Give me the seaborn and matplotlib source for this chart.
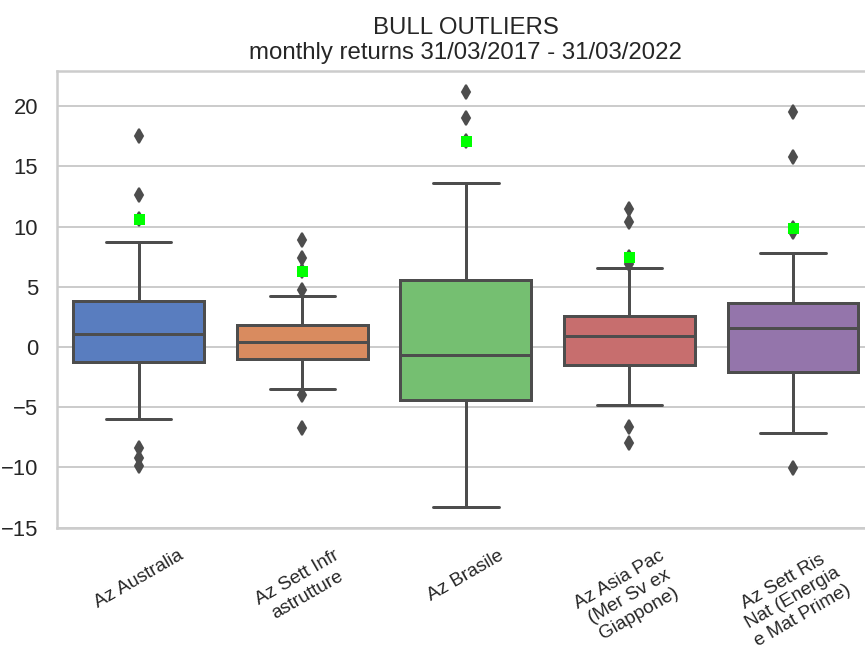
import textwrap

import matplotlib.pyplot as plt
import pandas as pd
import seaborn as sns

sns.set_theme(style="whitegrid", palette="muted")
plt.rcParams["font.family"] = ["Liberation Sans", "DejaVu Sans"]

funds = [
    "Az Australia",
    "Az Sett Infrastrutture",
    "Az Brasile",
    "Az Asia Pac (Mer Sv ex Giappone)",
    "Az Sett Ris Nat (Energia e Mat Prime)",
]

# monthly returns (%)
az_australia = [-9.9, -9.2, -8.4, -6.0, -1.2, -0.6, 0.0, 0.6, 1.1, 1.8, 2.5,
                3.2, 3.8, 8.7, 10.6, 12.6, 17.5]
az_infrastrutture = [-6.7, -4.0, -3.45, -2.6, -1.8, -1.0, -0.7, -0.3, 0.0, 0.2,
                     0.45, 0.8, 1.1, 1.4, 1.6, 1.85, 4.2, 4.75, 6.35, 7.4, 8.9]
az_brasile = [-13.3, -10.5, -8.0, -6.0, -4.4, -3.5, -2.5, -1.5, -0.7, 1.0, 2.5,
              4.0, 5.6, 13.6, 17.1, 19.0, 21.2]
az_asia_pac = [-7.95, -6.65, -4.85, -3.5, -2.4, -1.45, -0.9, -0.4, 0.1, 0.5,
               0.9, 1.3, 1.7, 2.0, 2.3, 2.6, 6.6, 6.9, 7.5, 10.35, 11.45]
az_ris_nat = [-10.05, -7.15, -5.5, -4.0, -3.0, -2.05, -1.2, -0.4, 0.4, 1.0, 1.6,
              2.0, 2.5, 3.0, 3.3, 3.65, 7.85, 9.55, 9.9, 15.75, 19.5]

# last month's return, highlighted in green
last_returns = [10.6, 6.35, 17.1, 7.5, 9.9]

labels = [textwrap.fill(f, 12) for f in funds]
series = [az_australia, az_infrastrutture, az_brasile, az_asia_pac, az_ris_nat]
df = pd.DataFrame(
    [(lab, v) for lab, vals in zip(labels, series) for v in vals],
    columns=["fund", "ret"],
)

fig, ax = plt.subplots(figsize=(865 / 144, 652 / 144), dpi=144)
fig.subplots_adjust(left=57 / 865, right=874.75 / 865,
                    bottom=1 - 528 / 652, top=1 - 71 / 652)

sns.boxplot(
    data=df, x="fund", y="ret", hue="fund", order=labels, hue_order=labels,
    palette="muted", legend=False, whis=1.0, linecolor=".3", linewidth=1.5,
    fliersize=5,
    flierprops=dict(marker="d", markerfacecolor=".3", markeredgecolor=".3"),
    ax=ax,
)
sns.stripplot(
    x=labels, y=last_returns, order=labels, jitter=False, marker="s",
    color="#00ff00", size=5.5, linewidth=0, zorder=3, ax=ax,
)

ax.set_title("BULL OUTLIERS\nmonthly returns 31/03/2017 - 31/03/2022",
             fontsize=12)
ax.set_xlabel("")
ax.set_ylabel("")
ax.tick_params(axis="x", labelrotation=30, labelsize=9.5)

fig.savefig("out.png", dpi=144)
